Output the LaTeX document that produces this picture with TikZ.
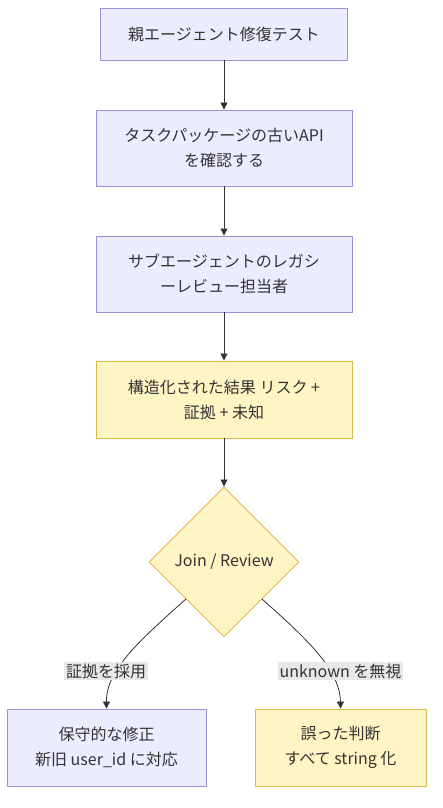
\documentclass[tikz,border=0pt]{standalone}
\usepackage{fontspec}
\setmainfont{Noto Sans CJK JP}
\usetikzlibrary{shapes.geometric,arrows.meta}
\definecolor{pfill}{HTML}{ECECFF}
\definecolor{pdraw}{HTML}{9F8FDB}
\definecolor{yfill}{HTML}{FFF4C4}
\definecolor{ydraw}{HTML}{D9BA4F}
\definecolor{lbg}{HTML}{E8E8E8}
\definecolor{edge}{HTML}{333333}
\definecolor{txt}{HTML}{333333}
\begin{document}
\begin{tikzpicture}[x=1pt,y=-1pt,
  font=\fontsize{16}{25}\selectfont, text=txt,
  pbox/.style={draw=pdraw,fill=pfill,line width=0.9pt,rectangle,align=center,inner sep=0pt},
  ybox/.style={draw=ydraw,fill=yfill,line width=0.9pt,rectangle,align=center,inner sep=0pt},
  conn/.style={draw=edge,line width=0.8pt,-{Triangle[length=7pt,width=7pt]}},
  lbl/.style={fill=lbg,inner sep=2pt,align=center}]
\useasboundingbox (0,0) rectangle (442,808);
\node[pbox,minimum width=247pt,minimum height=52pt] (a) at (224,34) {親エージェント修復テスト};
\node[pbox,minimum width=256pt,minimum height=76pt] (b) at (224,148) {タスクパッケージの古いAPI\\を確認する};
\node[pbox,minimum width=256pt,minimum height=76pt] (c) at (224,274) {サブエージェントのレガシ\\ーレビュー担当者};
\node[ybox,minimum width=256pt,minimum height=77pt] (d) at (224,399.5) {構造化された結果 リスク +\\証拠 + 未知};
\node[ybox,diamond,minimum width=150pt,minimum height=150pt,inner sep=0pt] (e) at (224,562) {Join / Review};
\node[pbox,minimum width=199pt,minimum height=77pt] (f) at (106.5,747.5) {保守的な修正\\新旧 user\_id に対応};
\node[ybox,minimum width=171pt,minimum height=77pt] (g) at (340.5,747.5) {誤った判断\\すべて string 化};
\draw[conn] (a) -- (b);
\draw[conn] (b) -- (c);
\draw[conn] (c) -- (d);
\draw[conn] (d) -- (e);
\coordinate (el) at (186,599);
\coordinate (er) at (262,599);
\draw[conn] (el) .. controls (140,640) and (106,670) .. (f.north);
\draw[conn] (er) .. controls (308,640) and (340,670) .. (g.north);
\node[lbl] (l1) at (106,671) {証拠を採用};
\node[lbl] (l2) at (340.5,671) {unknown を無視};
\end{tikzpicture}
\end{document}
